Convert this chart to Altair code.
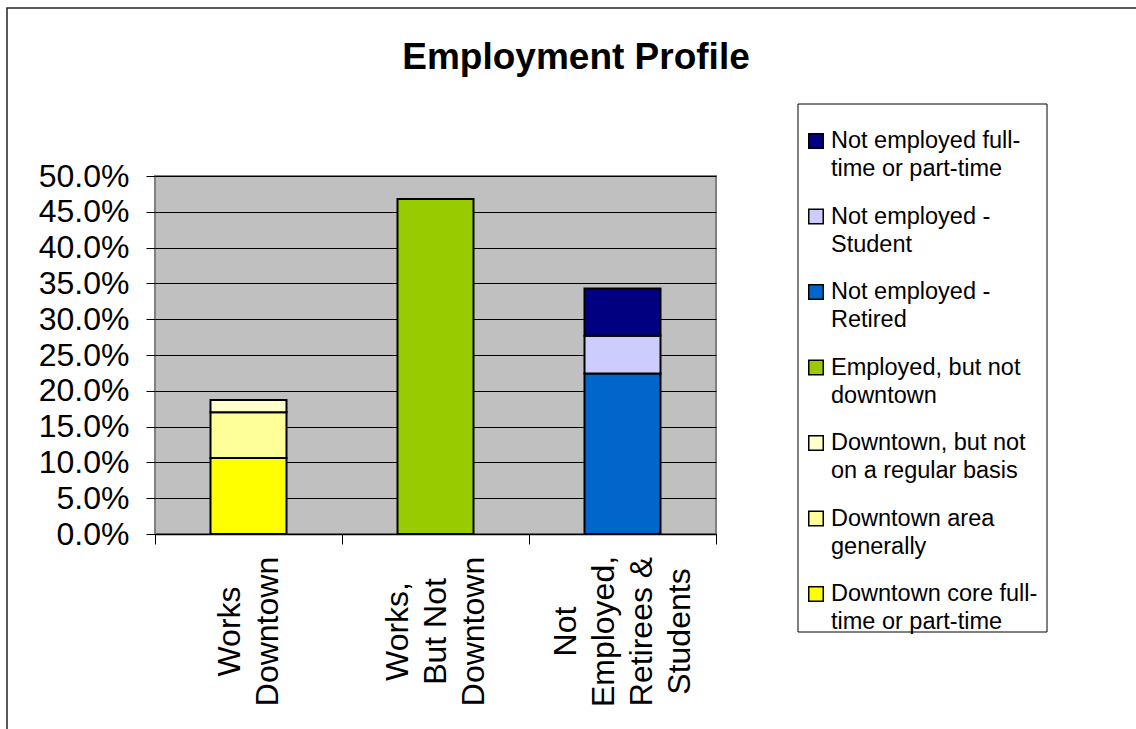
import altair as alt
import pandas as pd

# ---- data ----
groups = ["Works|Downtown", "Works,|But Not|Downtown", "Not|Employed,|Retirees &|Students"]
series = [
    "Downtown core full-time or part-time",
    "Downtown area generally",
    "Downtown, but not on a regular basis",
    "Employed, but not downtown",
    "Not employed - Retired",
    "Not employed - Student",
    "Not employed full-time or part-time",
]
series_group = [0, 0, 0, 1, 2, 2, 2]
values = [0.106, 0.064, 0.017, 0.468, 0.224, 0.053, 0.066]
colors = ["#FFFF00", "#FFFF99", "#FFFFCC", "#99CC00", "#0066CC", "#CCCCFF", "#000080"]
legend_line1 = ["Downtown core full-", "Downtown area", "Downtown, but not",
                "Employed, but not", "Not employed -", "Not employed -", "Not employed full-"]
legend_line2 = ["time or part-time", "generally", "on a regular basis",
                "downtown", "Retired", "Student", "time or part-time"]
y_ticks = [0.0, 0.05, 0.10, 0.15, 0.20, 0.25, 0.30, 0.35, 0.40, 0.45, 0.50]
title_text = "Employment Profile"

FONT = "Liberation Sans"
LINE_H = 38

bars_df = pd.DataFrame({
    "group": [groups[g] for g in series_group],
    "series": series,
    "value": values,
    "ord": list(range(len(series))),
})

n = len(series)
legend_df = pd.DataFrame({
    "series": series,
    "line1": legend_line1,
    "line2": legend_line2,
    "li": [n - 1 - i for i in range(n)],  # top of legend = last series
})

one = pd.DataFrame({"t": [title_text]})

color = alt.Color("series:N", scale=alt.Scale(domain=series, range=colors), legend=None)

# centre each multi-line (rotated) label block on its category
label_offset = {
    "condition": [
        {"test": f"datum.value === '{g}'", "value": -(len(g.split('|')) - 1) * LINE_H / 2}
        for g in groups[:-1]
    ],
    "value": -(len(groups[-1].split('|')) - 1) * LINE_H / 2,
}

frame = alt.Chart(one).mark_rect(fill=None, stroke="#222222", strokeWidth=1.5).encode(
    x=alt.value(-148), x2=alt.value(1010), y=alt.value(-168), y2=alt.value(600)
)

bars = alt.Chart(bars_df).mark_bar(size=76, stroke="black", strokeWidth=2).encode(
    x=alt.X("group:N", sort=groups, title=None,
            scale=alt.Scale(paddingInner=0, paddingOuter=0),
            axis=alt.Axis(labelExpr="split(datum.label, '|')", labelAngle=270,
                          labelAlign="center", labelBaseline="middle",
                          labelFontSize=32, labelLineHeight=LINE_H, labelPadding=87,
                          labelOffset=label_offset,
                          labelColor="black", labelOverlap=False, labelLimit=0,
                          labelBound=False, tickBand="extent", tickSize=10,
                          tickColor="black", domainColor="black", domainWidth=1.5)),
    y=alt.Y("value:Q", stack="zero", title=None,
            scale=alt.Scale(domain=[0, 0.5], nice=False),
            axis=alt.Axis(values=y_ticks, format=".1%", labelFontSize=32,
                          labelColor="black", labelPadding=17, tickSize=9,
                          tickColor="black", grid=True, gridColor="black",
                          gridWidth=1, domain=False)),
    color=color,
    order=alt.Order("ord:Q"),
)

legend_box = alt.Chart(one).mark_rect(fill="white", stroke="black", strokeWidth=1).encode(
    x=alt.value(643), x2=alt.value(892), y=alt.value(-72), y2=alt.value(456)
)

leg_y = alt.Y("li:Q", scale=alt.Scale(domain=[0, n - 1], range=[-35, 418]), axis=None)

leg_sq = alt.Chart(legend_df).mark_square(size=210, stroke="black", strokeWidth=1.5,
                                          opacity=1, filled=True).encode(
    x=alt.value(661), y=leg_y, color=color
)
leg_t1 = alt.Chart(legend_df).mark_text(align="left", baseline="middle", fontSize=23.5,
                                        font=FONT, color="black").encode(
    x=alt.value(676), y=leg_y, text="line1:N"
)
leg_t2 = alt.Chart(legend_df).mark_text(align="left", baseline="middle", fontSize=23.5,
                                        font=FONT, color="black", dy=28).encode(
    x=alt.value(676), y=leg_y, text="line2:N"
)

title = alt.Chart(one).mark_text(align="center", baseline="alphabetic", fontSize=37,
                                 fontWeight="bold", font=FONT, color="black").encode(
    x=alt.value(421), y=alt.value(-107), text="t:N"
)

chart = alt.layer(frame, bars, legend_box, leg_sq, leg_t1, leg_t2, title).resolve_scale(
    y="independent"
).properties(
    width=561, height=358,
    autosize=alt.AutoSizeParams(type="none"),
    padding={"left": 155, "top": 176, "right": 420, "bottom": 195},
    background="white",
).configure(font=FONT).configure_view(fill="#C0C0C0", stroke="#808080", strokeWidth=2)

chart.save("out.html", embed_options={"renderer": "svg", "actions": False})
